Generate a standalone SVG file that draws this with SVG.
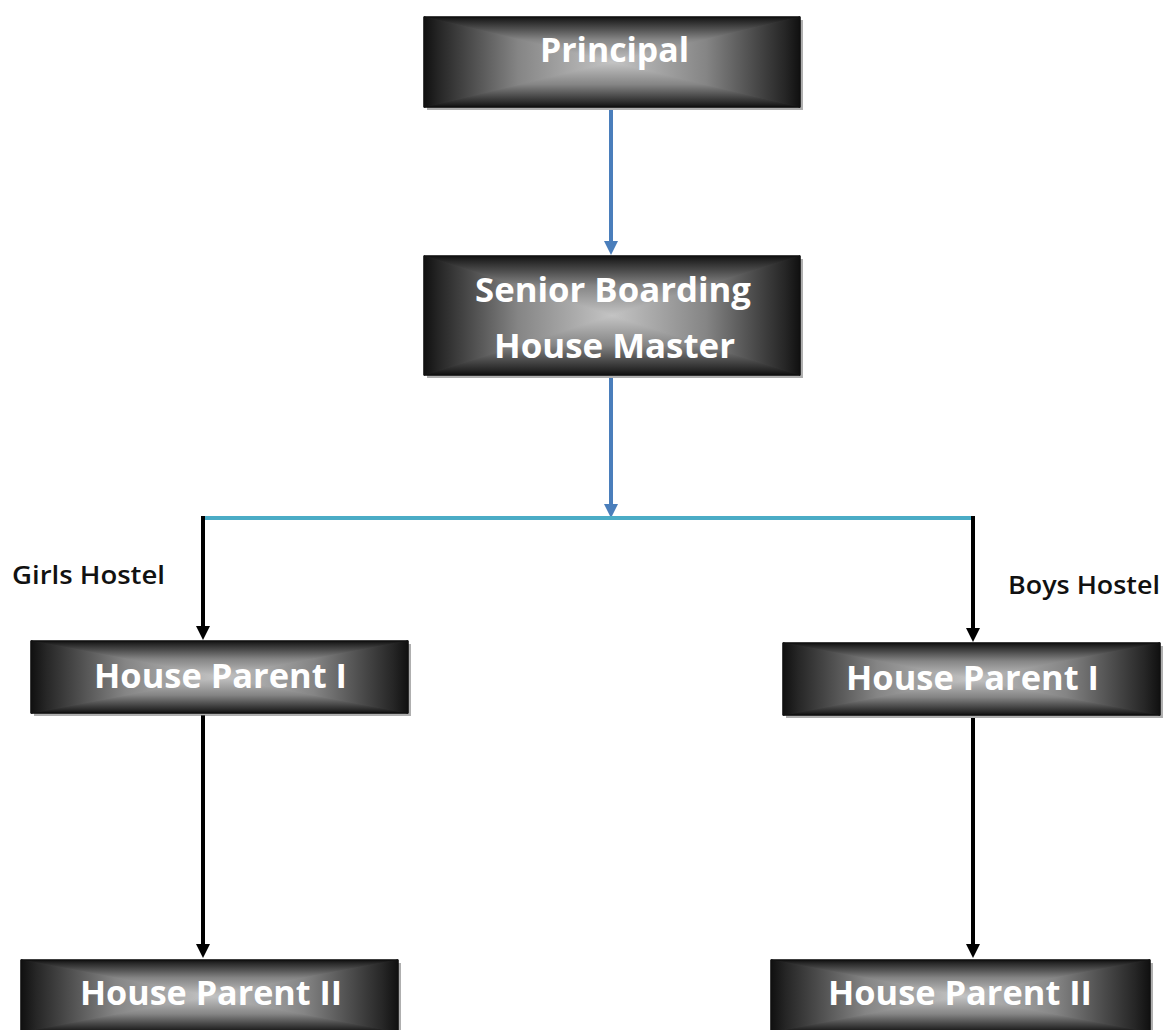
<svg xmlns="http://www.w3.org/2000/svg" width="1170" height="1030" viewBox="0 0 1170 1030">
<defs>
<style>
.base{fill:#666}
.t{fill:url(#gT);stroke:url(#gT);stroke-width:1}
.b{fill:url(#gB);stroke:url(#gB);stroke-width:1}
.l{fill:url(#gL);stroke:url(#gL);stroke-width:1}
.r{fill:url(#gR);stroke:url(#gR);stroke-width:1}
.sh{fill:#6e6e6e;opacity:0.55}
.bd{fill:none;stroke:#111;stroke-width:1.2}
.nt{font-family:"Open Sans","Liberation Sans",sans-serif;font-weight:bold;fill:#fff;font-size:34px;text-anchor:middle}
.lb{font-family:"Open Sans","Liberation Sans",sans-serif;font-weight:600;fill:#111;font-size:26px}
.blue{stroke:#4a7ebb;stroke-width:4;fill:none}
.cyan{stroke:#4bacc6;stroke-width:4;fill:none}
.blk{stroke:#000;stroke-width:4;fill:none}
</style>
<linearGradient id="gT" x1="0" y1="0" x2="0" y2="1"><stop offset="0" stop-color="#101010"/><stop offset="0.08" stop-color="#262626"/><stop offset="0.5" stop-color="#858585"/><stop offset="1" stop-color="#c4c4c4"/></linearGradient>
<linearGradient id="gB" x1="0" y1="1" x2="0" y2="0"><stop offset="0" stop-color="#101010"/><stop offset="0.08" stop-color="#262626"/><stop offset="0.5" stop-color="#858585"/><stop offset="1" stop-color="#c4c4c4"/></linearGradient>
<linearGradient id="gL" x1="0" y1="0" x2="1" y2="0"><stop offset="0" stop-color="#101010"/><stop offset="0.08" stop-color="#262626"/><stop offset="0.5" stop-color="#858585"/><stop offset="1" stop-color="#c4c4c4"/></linearGradient>
<linearGradient id="gR" x1="1" y1="0" x2="0" y2="0"><stop offset="0" stop-color="#101010"/><stop offset="0.08" stop-color="#262626"/><stop offset="0.5" stop-color="#858585"/><stop offset="1" stop-color="#c4c4c4"/></linearGradient>
<marker id="ab" viewBox="0 0 10 10" refX="0" refY="5" markerWidth="14" markerHeight="14" markerUnits="userSpaceOnUse" orient="auto"><path d="M0,0 L10,5 L0,10 z" fill="#4a7ebb"/></marker>
<marker id="ak" viewBox="0 0 10 10" refX="0" refY="5" markerWidth="14" markerHeight="14" markerUnits="userSpaceOnUse" orient="auto"><path d="M0,0 L10,5 L0,10 z" fill="#000"/></marker>
</defs>
<rect width="1170" height="1030" fill="#fff"/>

<g id="connectors">
<line class="blue" x1="611" y1="110" x2="611" y2="241" marker-end="url(#ab)"/>
<line class="blue" x1="611" y1="378" x2="611" y2="504" marker-end="url(#ab)"/>
<line class="cyan" x1="201" y1="518" x2="975" y2="518"/>
<line class="blk" x1="203" y1="516" x2="203" y2="626" marker-end="url(#ak)"/>
<line class="blk" x1="973" y1="516" x2="973" y2="628" marker-end="url(#ak)"/>
<line class="blk" x1="203" y1="715" x2="203" y2="944" marker-end="url(#ak)"/>
<line class="blk" x1="973" y1="718" x2="973" y2="944" marker-end="url(#ak)"/>
</g>

<g id="principal">
<rect class="sh" x="427" y="20" width="376" height="90"/>
<rect class="base" x="424" y="17" width="376" height="90"/>
<polygon class="t" points="424,17 800,17 612,62"/>
<polygon class="b" points="424,107 800,107 612,62"/>
<polygon class="l" points="424,17 424,107 612,62"/>
<polygon class="r" points="800,17 800,107 612,62"/>
<rect class="bd" x="424" y="17" width="376" height="90"/>
<text class="nt" x="614.5" y="62" textLength="149" lengthAdjust="spacingAndGlyphs">Principal</text>
</g>

<g id="senior">
<rect class="sh" x="427" y="259" width="376" height="119"/>
<rect class="base" x="424" y="256" width="376" height="119"/>
<polygon class="t" points="424,256 800,256 612,315.5"/>
<polygon class="b" points="424,375 800,375 612,315.5"/>
<polygon class="l" points="424,256 424,375 612,315.5"/>
<polygon class="r" points="800,256 800,375 612,315.5"/>
<rect class="bd" x="424" y="256" width="376" height="119"/>
<text class="nt" x="613" y="302" textLength="276" lengthAdjust="spacingAndGlyphs">Senior Boarding</text>
<text class="nt" x="614.5" y="358" textLength="241" lengthAdjust="spacingAndGlyphs">House Master</text>
</g>

<g id="girls-label">
<text class="lb" x="12" y="584" textLength="153" lengthAdjust="spacingAndGlyphs">Girls Hostel</text>
</g>
<g id="boys-label">
<text class="lb" x="1008" y="594" textLength="152" lengthAdjust="spacingAndGlyphs">Boys Hostel</text>
</g>

<g id="hp1-left">
<rect class="sh" x="34" y="644" width="377" height="72"/>
<rect class="base" x="31" y="641" width="377" height="72"/>
<polygon class="t" points="31,641 408,641 219.5,677"/>
<polygon class="b" points="31,713 408,713 219.5,677"/>
<polygon class="l" points="31,641 31,713 219.5,677"/>
<polygon class="r" points="408,641 408,713 219.5,677"/>
<rect class="bd" x="31" y="641" width="377" height="72"/>
<text class="nt" x="220.5" y="688" textLength="253" lengthAdjust="spacingAndGlyphs">House Parent I</text>
</g>

<g id="hp1-right">
<rect class="sh" x="786" y="646" width="377" height="72"/>
<rect class="base" x="783" y="643" width="377" height="72"/>
<polygon class="t" points="783,643 1160,643 971.5,679"/>
<polygon class="b" points="783,715 1160,715 971.5,679"/>
<polygon class="l" points="783,643 783,715 971.5,679"/>
<polygon class="r" points="1160,643 1160,715 971.5,679"/>
<rect class="bd" x="783" y="643" width="377" height="72"/>
<text class="nt" x="972.5" y="690" textLength="253" lengthAdjust="spacingAndGlyphs">House Parent I</text>
</g>

<g id="hp2-left">
<rect class="sh" x="24" y="963" width="377" height="72"/>
<rect class="base" x="21" y="960" width="377" height="72"/>
<polygon class="t" points="21,960 398,960 209.5,996"/>
<polygon class="b" points="21,1032 398,1032 209.5,996"/>
<polygon class="l" points="21,960 21,1032 209.5,996"/>
<polygon class="r" points="398,960 398,1032 209.5,996"/>
<rect class="bd" x="21" y="960" width="377" height="72"/>
<text class="nt" x="211" y="1005" textLength="262" lengthAdjust="spacingAndGlyphs">House Parent II</text>
</g>

<g id="hp2-right">
<rect class="sh" x="774" y="963" width="379" height="72"/>
<rect class="base" x="771" y="960" width="379" height="72"/>
<polygon class="t" points="771,960 1150,960 960.5,996"/>
<polygon class="b" points="771,1032 1150,1032 960.5,996"/>
<polygon class="l" points="771,960 771,1032 960.5,996"/>
<polygon class="r" points="1150,960 1150,1032 960.5,996"/>
<rect class="bd" x="771" y="960" width="379" height="72"/>
<text class="nt" x="960" y="1005" textLength="264" lengthAdjust="spacingAndGlyphs">House Parent II</text>
</g>
</svg>
